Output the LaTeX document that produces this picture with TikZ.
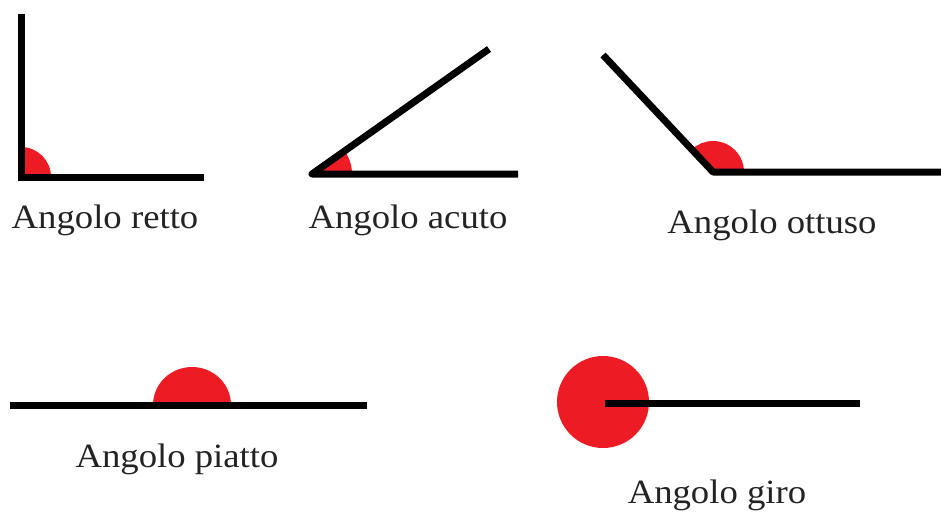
\documentclass[tikz,border=0pt]{standalone}
\usepackage{fontspec}
\setmainfont{Liberation Serif}
\definecolor{paintred}{RGB}{237,28,36}
\definecolor{inkgray}{RGB}{35,35,35}
\tikzset{
  ray/.style={line width=7pt, black, line join=round},
  blob/.style={fill=paintred, draw=none},
  lbl/.style={anchor=base, inner sep=0pt, text=inkgray, font=\fontsize{34}{40}\selectfont}
}
\newcommand{\wlab}[1]{\scalebox{1.08}[1]{#1}}
\begin{document}
\begin{tikzpicture}[x=1pt,y=-1pt]
\useasboundingbox[fill=white] (0,0) rectangle (941,516);
% Angolo retto
\coordinate (rV) at (21,177);
\fill[blob] (rV) -- (21,147) arc[start angle=-90,end angle=0,radius=30] -- cycle;
\draw[ray, line join=miter] (21,14) -- (rV) -- (204,177);
\node[lbl] (tretto) at (105,228) {\wlab{Angolo retto}};
% Angolo acuto
\coordinate (aV) at (312,174);
\fill[blob] (aV) -- ++(40,0) arc[start angle=0,end angle=-35.2,radius=40] -- cycle;
\draw[ray] (489,49) -- (aV) -- (518,174);
\node[lbl] (tacuto) at (408,228) {\wlab{Angolo acuto}};
% Angolo ottuso
\coordinate (oV) at (713,172);
\fill[blob] (oV) -- ++(31,0) arc[start angle=0,end angle=-133,radius=31] -- cycle;
\draw[ray] (603,55) -- (oV) -- (941,172);
\node[lbl] (tottuso) at (772,233) {\wlab{Angolo ottuso}};
% Angolo piatto
\coordinate (pV) at (192,405);
\fill[blob] (pV) -- ++(39,0) arc[start angle=0,end angle=-180,x radius=39,y radius=38] -- cycle;
\draw[ray] (10,405) -- (367,405);
\node[lbl] (tpiatto) at (177,467) {\wlab{Angolo piatto}};
% Angolo giro
\coordinate (gV) at (605,403);
\fill[blob] (603,402) circle[radius=46];
\draw[ray] (gV) -- (860,403);
\node[lbl] (tgiro) at (717,503) {\wlab{Angolo giro}};
\end{tikzpicture}
\end{document}
